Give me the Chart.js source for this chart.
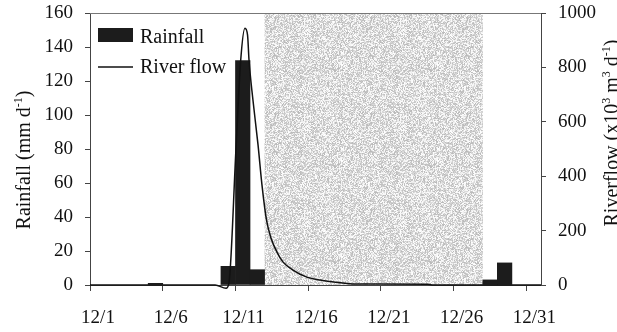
<!DOCTYPE html>
<html>
<head>
<meta charset="utf-8">
<script src="https://cdn.jsdelivr.net/npm/chart.js@4/dist/chart.umd.min.js"></script>
<style>
  html, body { margin: 0; padding: 0; background: #fff; }
  #wrap { width: 617px; height: 332px; }
</style>
</head>
<body>
<div id="wrap"><canvas id="c" width="617" height="332"></canvas></div>
<script>
// Daily rainfall, December (day of month -> mm per day)
const rainDays = [5, 10, 11, 12, 28, 29];
const rainMm   = [1, 11, 132, 9, 3, 13];

// River flow hydrograph (day of month, x10^3 m^3 per day)
const flowDays = [1, 9.6, 10.35, 10.55, 11.03, 11.36, 11.65, 11.83, 11.93, 12.20, 12.55, 12.82, 13.13, 13.44, 13.85, 14.26, 14.95, 15.91, 16.81, 18.39, 19.08, 24.2, 24.5, 32];
const flowVals = [0, 0, -12, 7, 496, 827, 944, 919, 827, 680, 515, 368, 239, 173, 121, 85, 55, 29, 18, 7, 4, 3, 0, 0];

// Date axis ticks
const tickDays   = [1, 6, 11, 16, 21, 26, 31];
const tickLabels = ['12/1', '12/6', '12/11', '12/16', '12/21', '12/26', '12/31'];

// Shaded period (day boundaries)
const shadeFrom = 13;
const shadeTo = 28;

const FONT = "'Liberation Serif', 'Times New Roman', serif";
const INK = '#111';
const BAR = '#1c1c1c';
const AXIS = '#444';

// Stippled grey texture for the shaded period
function makeStipple(ctx) {
  const n = 96;
  const off = document.createElement('canvas');
  off.width = n; off.height = n;
  const octx = off.getContext('2d');
  const img = octx.createImageData(n, n);
  for (let i = 0; i < n * n; i++) {
    let h = Math.imul(i + 17, 2654435761) >>> 0;
    h ^= h >>> 15; h = Math.imul(h, 2246822519) >>> 0; h ^= h >>> 13;
    const r = (h % 1000) / 1000;
    let v = 236 + ((h >>> 10) % 20);
    if (r < 0.18) v = 185 + ((h >>> 5) % 40);
    if (v > 255) v = 255;
    img.data[i * 4] = v; img.data[i * 4 + 1] = v; img.data[i * 4 + 2] = v; img.data[i * 4 + 3] = 255;
  }
  octx.putImageData(img, 0, 0);
  return ctx.createPattern(off, 'repeat');
}

const shadePlugin = {
  id: 'shadePeriod',
  beforeDatasetsDraw(chart) {
    const { ctx, chartArea, scales } = chart;
    const x0 = scales.x.getPixelForValue(shadeFrom);
    const x1 = scales.x.getPixelForValue(shadeTo);
    ctx.save();
    ctx.fillStyle = makeStipple(ctx);
    ctx.fillRect(x0, chartArea.top, x1 - x0, chartArea.bottom - chartArea.top);
    ctx.restore();
  },
  afterDraw(chart) {
    const { ctx, chartArea } = chart;
    // top edge of the plot frame
    ctx.save();
    ctx.strokeStyle = '#777';
    ctx.lineWidth = 1;
    ctx.beginPath();
    ctx.moveTo(chartArea.left, chartArea.top + 0.5);
    ctx.lineTo(chartArea.right, chartArea.top + 0.5);
    ctx.stroke();
    ctx.restore();
  }
};

// Legend drawn inside the top-left corner of the plot
const insetLegend = {
  id: 'insetLegend',
  afterDatasetsDraw(chart) {
    const { ctx, chartArea } = chart;
    const x = chartArea.left + 8;
    const textX = chartArea.left + 50;
    const bars = chart.data.datasets.find(d => d.type === 'bar');
    const line = chart.data.datasets.find(d => d.type === 'line');
    ctx.save();
    ctx.font = '20px ' + FONT;
    ctx.textBaseline = 'alphabetic';
    // bar swatch
    ctx.fillStyle = bars.backgroundColor;
    ctx.fillRect(x, chartArea.top + 15, 35, 14);
    ctx.fillStyle = INK;
    ctx.fillText(bars.label, textX, chartArea.top + 30);
    // line swatch
    ctx.strokeStyle = line.borderColor;
    ctx.lineWidth = line.borderWidth;
    ctx.beginPath();
    ctx.moveTo(x, chartArea.top + 54);
    ctx.lineTo(x + 35, chartArea.top + 54);
    ctx.stroke();
    ctx.fillText(line.label, textX, chartArea.top + 60);
    ctx.restore();
  }
};

// Rotated axis titles with superscript runs
function drawRichVertical(ctx, parts, cx, cy, size) {
  const supSize = Math.round(size * 0.62);
  ctx.save();
  ctx.translate(cx, cy);
  ctx.rotate(-Math.PI / 2);
  let total = 0;
  for (const p of parts) {
    ctx.font = (p.sup ? supSize : size) + 'px ' + FONT;
    total += ctx.measureText(p.t).width;
  }
  let x = -total / 2;
  ctx.fillStyle = INK;
  ctx.textBaseline = 'alphabetic';
  for (const p of parts) {
    ctx.font = (p.sup ? supSize : size) + 'px ' + FONT;
    ctx.fillText(p.t, x, p.sup ? size * 0.33 - size * 0.38 : size * 0.33);
    x += ctx.measureText(p.t).width;
  }
  ctx.restore();
}

const titlePlugin = {
  id: 'axisTitles',
  afterDraw(chart) {
    const { ctx, chartArea } = chart;
    drawRichVertical(ctx,
      [{ t: 'Rainfall (mm d' }, { t: '-1', sup: true }, { t: ')' }],
      chartArea.left - 67, chartArea.top + 147, 20);
    drawRichVertical(ctx,
      [{ t: 'Riverflow (x10' }, { t: '3', sup: true }, { t: ' m' }, { t: '3', sup: true }, { t: ' d' }, { t: '-1', sup: true }, { t: ')' }],
      chartArea.right + 70, chartArea.top + 120, 20);
  }
};

// Fixed axis bands so the plot area sits at a set place on the canvas
function fixVertical(width) {
  return (scale) => { scale.width = width; scale.paddingTop = 0; scale.paddingBottom = 0; };
}

const rainPoints = rainDays.map((d, i) => ({ x: d + 0.5, y: rainMm[i] }));
const flowPoints = flowDays.map((d, i) => ({ x: d, y: flowVals[i] }));

new Chart(document.getElementById('c'), {
  type: 'bar',
  data: {
    datasets: [
      {
        type: 'line',
        label: 'River flow',
        data: flowPoints,
        yAxisID: 'y2',
        borderColor: INK,
        borderWidth: 1.5,
        pointRadius: 0,
        cubicInterpolationMode: 'monotone',
        clip: 6,
        order: 0
      },
      {
        type: 'bar',
        label: 'Rainfall',
        data: rainPoints,
        yAxisID: 'y',
        backgroundColor: BAR,
        borderWidth: 0,
        barPercentage: 1,
        categoryPercentage: 1,
        order: 1
      }
    ]
  },
  options: {
    responsive: false,
    animation: false,
    layout: { padding: { top: 13, left: 0, right: 0, bottom: 0 } },
    plugins: {
      tooltip: { enabled: false },
      legend: { display: false }
    },
    scales: {
      x: {
        type: 'linear',
        min: 1,
        max: 32,
        offset: false,
        afterBuildTicks(scale) { scale.ticks = tickDays.map(v => ({ value: v })); },
        afterFit(scale) { scale.height = 47; scale.paddingLeft = 0; scale.paddingRight = 0; },
        grid: { drawOnChartArea: false, drawTicks: true, tickLength: 6, color: AXIS, offset: false },
        border: { display: true, color: AXIS, width: 1 },
        ticks: {
          color: INK,
          font: { family: FONT, size: 19 },
          padding: 16,
          labelOffset: 8,
          maxRotation: 0,
          autoSkip: false,
          callback: (v) => tickLabels[tickDays.indexOf(v)]
        }
      },
      y: {
        position: 'left',
        min: 0,
        max: 160,
        afterFit: fixVertical(90),
        grid: { drawOnChartArea: false, drawTicks: true, tickLength: 5, color: AXIS },
        border: { display: true, color: AXIS, width: 1 },
        ticks: { stepSize: 20, color: INK, font: { family: FONT, size: 19 }, padding: 12 }
      },
      y2: {
        position: 'right',
        min: 0,
        max: 1000,
        afterFit: fixVertical(76),
        grid: { drawOnChartArea: false, drawTicks: true, tickLength: 5, color: AXIS },
        border: { display: true, color: AXIS, width: 1 },
        ticks: {
          stepSize: 200, color: INK, font: { family: FONT, size: 19 }, padding: 12,
          callback: (v) => String(v)
        }
      }
    }
  },
  plugins: [shadePlugin, insetLegend, titlePlugin]
});
</script>
</body>
</html>
